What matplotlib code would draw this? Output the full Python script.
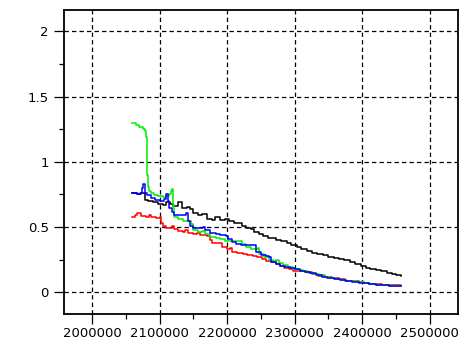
import matplotlib
matplotlib.use("Agg")
import matplotlib.pyplot as plt
from matplotlib.ticker import MultipleLocator

# series (x, value), drawn as steps
black_x = [2060000, 2066000, 2072000, 2078000, 2083000, 2090000, 2098000, 2105000, 2110000,
           2115000, 2120000, 2127000, 2133000, 2140000, 2145000, 2150000, 2157000, 2163000,
           2170000, 2177000, 2182000, 2190000, 2197000, 2203000, 2210000, 2215000, 2222000,
           2228000, 2235000, 2240000, 2247000, 2253000, 2260000, 2265000, 2272000, 2280000,
           2288000, 2295000, 2303000, 2310000, 2318000, 2325000, 2333000, 2342000, 2350000,
           2358000, 2365000, 2373000, 2382000, 2390000, 2398000, 2405000, 2412000, 2420000,
           2428000, 2436000, 2444000, 2450000, 2458000]
black_y = [0.763, 0.755, 0.765, 0.71, 0.70, 0.695, 0.68, 0.67, 0.69,
           0.675, 0.665, 0.69, 0.65, 0.655, 0.635, 0.605, 0.595, 0.60,
           0.565, 0.555, 0.575, 0.555, 0.565, 0.545, 0.53, 0.535, 0.51,
           0.495, 0.485, 0.46, 0.445, 0.435, 0.42, 0.415, 0.40, 0.39,
           0.375, 0.36, 0.345, 0.33, 0.315, 0.30, 0.29, 0.285, 0.27,
           0.265, 0.255, 0.245, 0.23, 0.22, 0.205, 0.19, 0.18, 0.17,
           0.16, 0.15, 0.14, 0.13, 0.122]

green_x = [2060000, 2065000, 2070000, 2075000, 2078000, 2080000, 2081000, 2082000, 2083000,
           2085000, 2088000, 2092000, 2098000, 2105000, 2110000, 2114000, 2117000, 2119000,
           2120000, 2122000, 2128000, 2135000, 2142000, 2146000, 2150000, 2157000, 2163000,
           2168000, 2175000, 2183000, 2190000, 2197000, 2205000, 2215000, 2222000, 2228000,
           2235000, 2246000, 2248000, 2255000, 2262000, 2268000, 2273000, 2277000, 2283000,
           2290000, 2298000, 2305000, 2312000, 2320000, 2328000, 2336000, 2345000, 2352000,
           2360000, 2368000, 2376000, 2385000, 2393000, 2402000, 2410000, 2420000, 2430000,
           2440000, 2458000]
green_y = [1.295, 1.285, 1.27, 1.255, 1.24, 1.19, 1.05, 0.90, 0.81,
           0.78, 0.765, 0.745, 0.735, 0.73, 0.74, 0.75, 0.775, 0.79,
           0.67, 0.58, 0.56, 0.55, 0.545, 0.52, 0.475, 0.46, 0.47,
           0.45, 0.425, 0.42, 0.41, 0.395, 0.39, 0.395, 0.37, 0.35,
           0.33, 0.337, 0.29, 0.27, 0.25, 0.24, 0.247, 0.225, 0.21,
           0.195, 0.18, 0.17, 0.16, 0.15, 0.14, 0.13, 0.12, 0.11,
           0.105, 0.095, 0.09, 0.085, 0.08, 0.07, 0.062, 0.058, 0.055,
           0.05, 0.048]

blue_x = [2060000, 2066000, 2071000, 2074000, 2076000, 2078000, 2082000, 2088000, 2094000,
          2100000, 2106000, 2110000, 2112000, 2114000, 2118000, 2122000, 2128000, 2135000,
          2139000, 2142000, 2145000, 2150000, 2158000, 2164000, 2168000, 2175000, 2183000,
          2190000, 2198000, 2201000, 2207000, 2213000, 2220000, 2230000, 2241000, 2243000,
          2250000, 2257000, 2262000, 2265000, 2272000, 2279000, 2286000, 2293000, 2300000,
          2308000, 2315000, 2323000, 2332000, 2340000, 2348000, 2358000, 2367000, 2376000,
          2385000, 2395000, 2402000, 2410000, 2420000, 2430000, 2440000, 2458000]
blue_y = [0.76, 0.755, 0.765, 0.80, 0.83, 0.765, 0.745, 0.725, 0.705,
          0.70, 0.715, 0.755, 0.70, 0.645, 0.615, 0.595, 0.59, 0.59,
          0.605, 0.55, 0.505, 0.49, 0.49, 0.497, 0.475, 0.455, 0.445,
          0.44, 0.435, 0.405, 0.385, 0.37, 0.365, 0.36, 0.362, 0.31,
          0.285, 0.275, 0.27, 0.23, 0.22, 0.205, 0.195, 0.185, 0.175,
          0.165, 0.155, 0.145, 0.13, 0.12, 0.11, 0.105, 0.095, 0.085,
          0.078, 0.075, 0.07, 0.06, 0.058, 0.054, 0.05, 0.045]

red_x = [2060000, 2064000, 2067000, 2072000, 2080000, 2084000, 2087000, 2095000, 2100000,
         2102000, 2105000, 2110000, 2115000, 2118000, 2122000, 2127000, 2135000, 2138000,
         2142000, 2150000, 2155000, 2160000, 2170000, 2174000, 2178000, 2190000, 2192000,
         2200000, 2205000, 2208000, 2215000, 2223000, 2230000, 2238000, 2245000, 2252000,
         2258000, 2265000, 2272000, 2278000, 2285000, 2292000, 2298000, 2305000, 2315000,
         2325000, 2335000, 2345000, 2355000, 2365000, 2375000, 2385000, 2395000, 2402000,
         2410000, 2420000, 2430000, 2440000, 2458000]
red_y = [0.575, 0.595, 0.605, 0.585, 0.58, 0.595, 0.58, 0.57, 0.58,
         0.53, 0.51, 0.495, 0.495, 0.508, 0.485, 0.47, 0.465, 0.475,
         0.455, 0.45, 0.455, 0.44, 0.43, 0.40, 0.38, 0.38, 0.345,
         0.33, 0.34, 0.31, 0.305, 0.29, 0.285, 0.28, 0.27, 0.255,
         0.24, 0.23, 0.215, 0.2, 0.19, 0.18, 0.165, 0.16, 0.155,
         0.14, 0.125, 0.12, 0.11, 0.1, 0.09, 0.085, 0.08, 0.075,
         0.062, 0.06, 0.055, 0.055, 0.052]

x_ticks = [2000000, 2100000, 2200000, 2300000, 2400000, 2500000]
y_ticks = [0, 0.5, 1, 1.5, 2]
y_labels = ["0", "0.5", "1", "1.5", "2"]

fig = plt.figure(figsize=(4.7, 3.5), dpi=100)
ax = fig.add_axes([0.136, 0.103, 0.838, 0.868])

ax.plot(black_x, black_y, color="black", lw=1.1, drawstyle="steps-post")
ax.plot(red_x, red_y, color="#ff0000", lw=1.1, drawstyle="steps-post")
ax.plot(green_x, green_y, color="#00ee00", lw=1.1, drawstyle="steps-post")
ax.plot(blue_x, blue_y, color="#0000ff", lw=1.1, drawstyle="steps-post")

ax.set_xlim(1958500, 2541500)
ax.set_ylim(-0.166, 2.163)

ax.set_xticks(x_ticks)
ax.set_xticklabels([str(v) for v in x_ticks])
ax.set_yticks(y_ticks)
ax.set_yticklabels(y_labels)
ax.xaxis.set_minor_locator(MultipleLocator(50000))
ax.yaxis.set_minor_locator(MultipleLocator(0.25))

ax.grid(True, which="major", color="black", lw=0.9, linestyle=(0, (3.5, 2.5)))
ax.tick_params(which="major", direction="out", length=7, width=0.9, labelsize=9.5)
ax.tick_params(axis="x", which="major", pad=2.5)
ax.tick_params(axis="y", which="major", pad=4)
ax.tick_params(which="minor", direction="out", length=3.6, width=0.9)
for s in ax.spines.values():
    s.set_linewidth(1.3)

fig.savefig("out.png", dpi=100)
